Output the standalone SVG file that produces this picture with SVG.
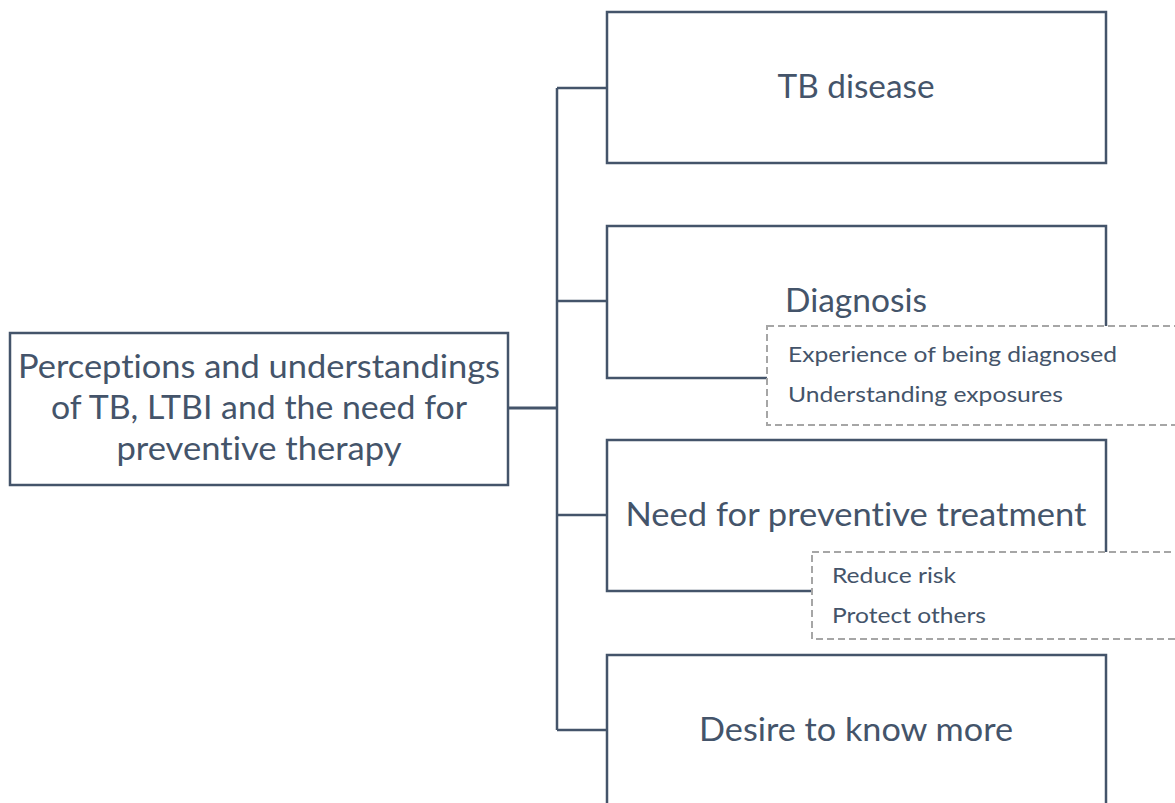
<svg xmlns="http://www.w3.org/2000/svg" width="1175" height="803" viewBox="0 0 1175 803">
<style>
.box{fill:#fff;stroke:#44546A;stroke-width:2.5}
.sub{fill:#fff;stroke:#A6A6A6;stroke-width:2;stroke-dasharray:7 4}
.conn{fill:none;stroke:#44546A;stroke-width:2.5}
.root{fill:none;stroke:#44546A;stroke-width:3}
.t{font-family:Lato,"Liberation Sans",sans-serif;font-size:32px;fill:#44546A;text-anchor:middle;font-variant-ligatures:none;font-feature-settings:"liga" 0}
.s{font-family:Lato,"Liberation Sans",sans-serif;font-size:22px;fill:#44546A;font-variant-ligatures:none;font-feature-settings:"liga" 0}
</style>
<rect width="1175" height="803" fill="#fff"/>
<g id="connectors">
<path class="root" d="M508 408 H557"/>
<path class="conn" d="M557 88 V730 M557 88 H607 M557 301 H607 M557 515 H607 M557 730 H607"/>
</g>
<g id="root-node">
<rect class="box" x="10" y="333" width="498" height="152"/>
<text class="t" x="259" y="378" textLength="482" lengthAdjust="spacingAndGlyphs">Perceptions and understandings</text>
<text class="t" x="259" y="419" textLength="416" lengthAdjust="spacingAndGlyphs">of TB, LTBI and the need for</text>
<text class="t" x="259" y="460" textLength="285" lengthAdjust="spacingAndGlyphs">preventive therapy</text>
</g>
<g id="tb-disease">
<rect class="box" x="607" y="12" width="499" height="151"/>
<text class="t" x="856" y="98" textLength="157" lengthAdjust="spacingAndGlyphs">TB disease</text>
</g>
<g id="diagnosis">
<rect class="box" x="607" y="226" width="499" height="152"/>
<text class="t" x="856" y="312" textLength="142" lengthAdjust="spacingAndGlyphs">Diagnosis</text>
</g>
<g id="diagnosis-sub">
<rect class="sub" x="767" y="326" width="420" height="99"/>
<text class="s" x="788" y="362" textLength="329" lengthAdjust="spacingAndGlyphs">Experience of being diagnosed</text>
<text class="s" x="788" y="402" textLength="275" lengthAdjust="spacingAndGlyphs">Understanding exposures</text>
</g>
<g id="need">
<rect class="box" x="607" y="440" width="499" height="151"/>
<text class="t" x="856" y="526" textLength="461" lengthAdjust="spacingAndGlyphs">Need for preventive treatment</text>
</g>
<g id="need-sub">
<rect class="sub" x="812" y="552" width="380" height="87"/>
<text class="s" x="832" y="583" textLength="124" lengthAdjust="spacingAndGlyphs">Reduce risk</text>
<text class="s" x="832" y="623" textLength="154" lengthAdjust="spacingAndGlyphs">Protect others</text>
</g>
<g id="desire">
<rect class="box" x="607" y="655" width="499" height="160"/>
<text class="t" x="856" y="741" textLength="314" lengthAdjust="spacingAndGlyphs">Desire to know more</text>
</g>
</svg>
